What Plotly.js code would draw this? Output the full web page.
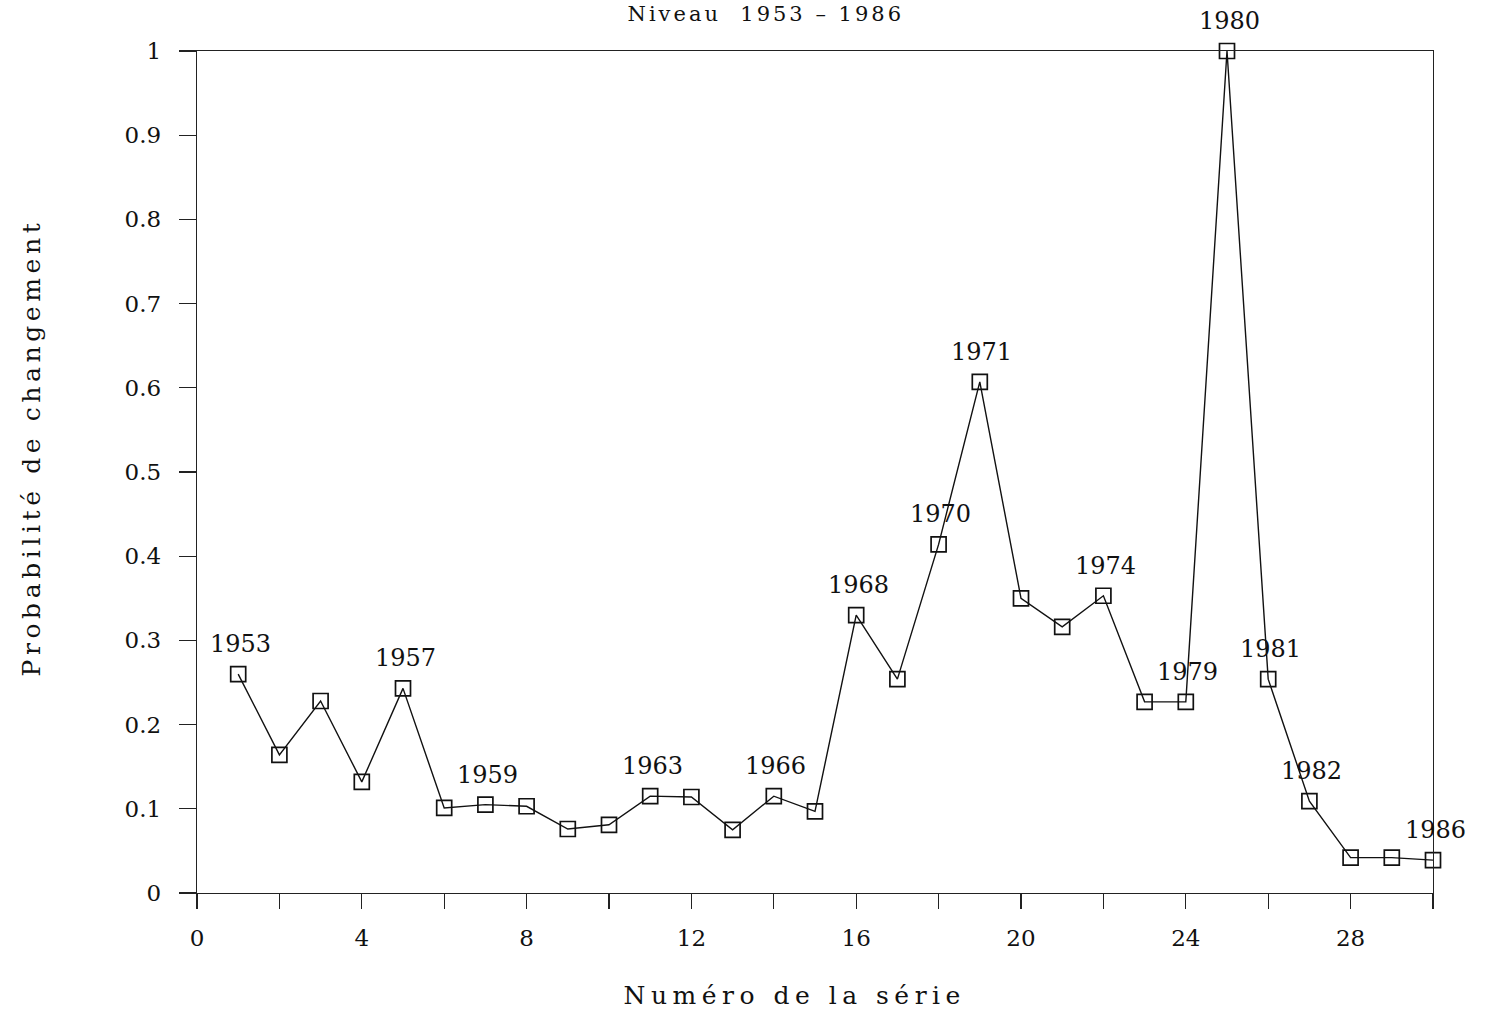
<!DOCTYPE html>
<html>
<head>
<meta charset="utf-8">
<script src="https://cdn.plot.ly/plotly-3.0.1.min.js"></script>
<style>
  html, body { margin: 0; padding: 0; background: #fff; overflow: hidden; }
  #chart { width: 1487px; height: 1015px; }
  #chart g.annotation[data-index="14"] text { letter-spacing: 5.5px; }
  #chart g.annotation[data-index="15"] text { letter-spacing: 4.6px; }
  #chart g.annotation[data-index="16"] text { letter-spacing: 3px; }
</style>
</head>
<body>
<div id="chart"></div>
<script>
// Series number (Numéro de la série)
const serie = [1,2,3,4,5,6,7,8,9,10,11,12,13,14,15,16,17,18,19,20,21,22,23,24,25,26,27,28,29,30];
// Probability of change
const probabilite = [0.260,0.164,0.228,0.132,0.243,0.101,0.105,0.103,0.076,0.081,
                     0.115,0.114,0.075,0.115,0.097,0.330,0.254,0.414,0.607,0.350,
                     0.316,0.353,0.227,0.227,1.000,0.254,0.109,0.042,0.042,0.039];
// Year labels shown above some points
const labelSerie = [1,5,7,11,14,16,18,19,22,24,25,26,27,30];
const labelAnnee = ["1953","1957","1959","1963","1966","1968","1970","1971","1974","1979","1980","1981","1982","1986"];
const xTicks = [0,4,8,12,16,20,24,28];
const yTicks = [0,0.1,0.2,0.3,0.4,0.5,0.6,0.7,0.8,0.9,1];
const yTickText = ["0","0.1","0.2","0.3","0.4","0.5","0.6","0.7","0.8","0.9","1"];

const FONT = "DejaVu Serif, Liberation Serif, serif";

const trace = {
  x: serie, y: probabilite,
  type: "scatter", mode: "lines+markers",
  line: {color: "#111", width: 1.4},
  marker: {symbol: "square-open", size: 15, color: "#111", line: {width: 1.7, color: "#111"}},
  hoverinfo: "x+y", showlegend: false, cliponaxis: false
};

const annotations = labelSerie.map((s, i) => ({
  x: s, y: probabilite[s - 1], xref: "x", yref: "y",
  text: labelAnnee[i], showarrow: false, yshift: 30, xshift: 2,
  font: {family: FONT, size: 24, color: "#111"}
}));

// index 14: x title
annotations.push({
  xref: "paper", yref: "paper", x: (794 - 197) / 1236, y: -(995 - 893) / 842,
  text: "Numéro de la série", showarrow: false, xanchor: "center", yanchor: "middle",
  font: {family: FONT, size: 25, color: "#111"}
});
// index 15: y title
annotations.push({
  xref: "paper", yref: "paper", x: -(197 - 31) / 1236, y: (893 - 448) / 842,
  text: "Probabilité de changement", showarrow: false, textangle: -90,
  xanchor: "center", yanchor: "middle",
  font: {family: FONT, size: 25, color: "#111"}
});
// index 16: chart title at the very top edge
annotations.push({
  xref: "paper", yref: "paper", x: (766 - 197) / 1236, y: (893 - 0) / 842,
  text: "Niveau  1953 – 1986", showarrow: false, xanchor: "center", yanchor: "top",
  font: {family: FONT, size: 21, color: "#111"}
});

const layout = {
  width: 1487, height: 1015,
  margin: {l: 197, r: 54, t: 51, b: 122, pad: 0},
  paper_bgcolor: "#fff", plot_bgcolor: "#fff",
  xaxis: {
    range: [0, 30], showgrid: false, zeroline: false,
    showline: true, linecolor: "#222", linewidth: 1.3, mirror: true,
    tickmode: "array", tickvals: xTicks, ticktext: xTicks.map(String),
    ticks: "outside", ticklen: 15, tickwidth: 1.2, tickcolor: "#222",
    ticklabelstandoff: 9,
    minor: {dtick: 2, tick0: 0, ticks: "outside", ticklen: 15, tickwidth: 1.2, tickcolor: "#222", showgrid: false},
    tickfont: {family: FONT, size: 23, color: "#111"}
  },
  yaxis: {
    range: [0, 1], showgrid: false, zeroline: false,
    showline: true, linecolor: "#222", linewidth: 1.3, mirror: true,
    tickmode: "array", tickvals: yTicks, ticktext: yTickText,
    ticks: "outside", ticklen: 17, tickwidth: 1.2, tickcolor: "#222",
    ticklabelstandoff: 13,
    tickfont: {family: FONT, size: 23, color: "#111"}
  },
  annotations: annotations
};

Plotly.newPlot("chart", [trace], layout, {displayModeBar: false, staticPlot: true});
</script>
</body>
</html>
